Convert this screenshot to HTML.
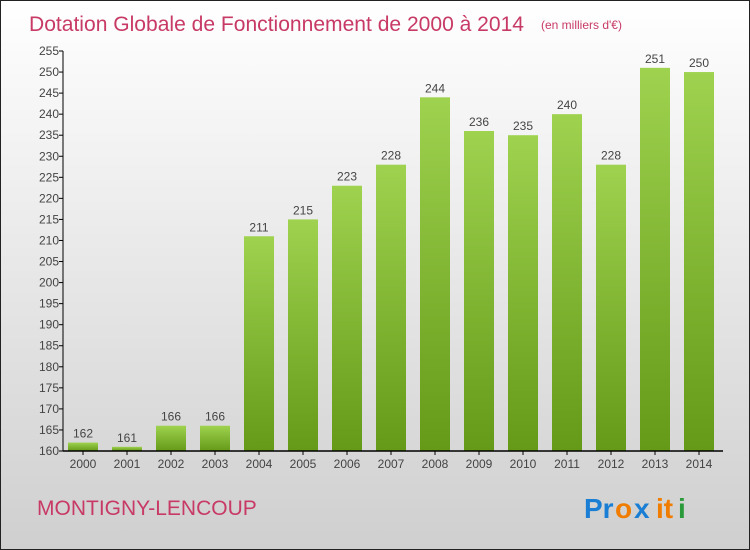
<!DOCTYPE html>
<html><head><meta charset="utf-8"><style>
body{margin:0;}
#wrap{position:relative;width:750px;height:550px;box-sizing:border-box;border:1px solid #222;background:linear-gradient(#ffffff,#cfcfcf);overflow:hidden;font-family:"Liberation Sans",sans-serif;}
svg{position:absolute;left:0;top:0;}
</style></head><body>
<div id="wrap">
<svg id="chart" width="750" height="550">
<defs>
<linearGradient id="g" x1="0" y1="0" x2="0" y2="1"><stop offset="0" stop-color="#9ed24f"/><stop offset="1" stop-color="#649a18"/></linearGradient>
</defs>
<text x="28" y="30" font-size="21" fill="#c83a66" textLength="495" lengthAdjust="spacingAndGlyphs">Dotation Globale de Fonctionnement de 2000 à 2014</text>
<text x="540" y="28" font-size="12" fill="#c83a66">(en milliers d'€)</text>
<text x="36" y="514" font-size="21" fill="#c83a66">MONTIGNY-LENCOUP</text>
<g font-size="28" font-weight="bold">
<text x="583" y="517" fill="#1a7fd4">Pr</text><text x="614" y="517" fill="#f07d00">o</text><text x="633" y="517" fill="#1a7fd4">x</text><text x="655" y="517" fill="#f07d00">it</text><text x="677" y="517" fill="#2a9a3a">i</text>
</g>
<g id="plot"></g>
</svg>
</div>
<script>
const categories=["2000","2001","2002","2003","2004","2005","2006","2007","2008","2009","2010","2011","2012","2013","2014"];
const values=[162,161,166,166,211,215,223,228,244,236,235,240,228,251,250];
const yTicks=[160,165,170,175,180,185,190,195,200,205,210,215,220,225,230,235,240,245,250,255];
const NS="http://www.w3.org/2000/svg";
const g=document.getElementById('plot');
const x0=62,slot=44,yMin=160,yMax=255,yBot=450,yTop=50;
const y=v=>yBot-(v-yMin)/(yMax-yMin)*(yBot-yTop);
const cx=i=>x0+slot*i+20;
function mk(t,a){const e=document.createElementNS(NS,t);for(const k in a)e.setAttribute(k,a[k]);g.appendChild(e);return e;}
values.forEach((v,i)=>{
 const r=mk('rect',{x:cx(i)-15,y:y(v),width:30,height:yBot-y(v),fill:'url(#g)'});
 
 
 const t=mk('text',{x:cx(i),y:y(v)-5,'text-anchor':'middle','font-size':12,fill:'#444'});t.textContent=v;
 
 
 const l=mk('text',{x:cx(i),y:467,'text-anchor':'middle','font-size':12,fill:'#444'});l.textContent=categories[i];
 
 
 mk('line',{x1:cx(i),x2:cx(i),y1:yBot,y2:yBot+4,stroke:'#000'});
});
yTicks.forEach(v=>{
 mk('line',{x1:x0-4,x2:x0,y1:y(v),y2:y(v),stroke:'#000'});
 const t=mk('text',{x:x0-4,y:y(v)+4,'text-anchor':'end','font-size':12,fill:'#444'});t.textContent=v;
 
 
});
const ya=mk('line',{x1:x0,x2:x0,y1:yTop,y2:yBot,stroke:'#000'});


const xa=mk('line',{x1:x0,x2:x0+slot*15,y1:yBot,y2:yBot,stroke:'#000','stroke-width':1.5});


</script>
</body></html>
